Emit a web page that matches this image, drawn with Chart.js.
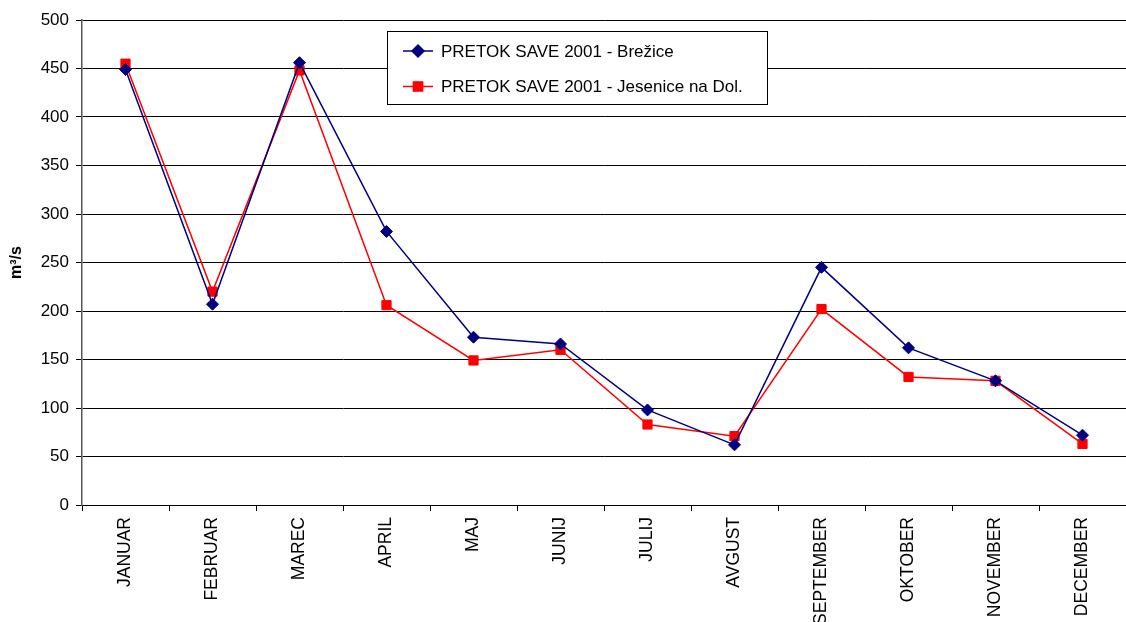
<!DOCTYPE html>
<html>
<head>
<meta charset="utf-8">
<script src="https://cdn.jsdelivr.net/npm/chart.js@4/dist/chart.umd.min.js"></script>
<style>
  html, body { margin: 0; padding: 0; background: #fff; }
  #wrap { width: 1126px; height: 622px; position: relative; }
</style>
</head>
<body>
<div id="wrap"><canvas id="lineChart"></canvas></div>
<script>
// podatki - pretok Save 2001 (m3/s)
const months = ['JANUAR','FEBRUAR','MAREC','APRIL','MAJ','JUNIJ','JULIJ','AVGUST','SEPTEMBER','OKTOBER','NOVEMBER','DECEMBER'];
const brezice   = [449, 207, 456, 282, 173, 166, 98, 62, 245, 162, 128, 72];
const jesenice  = [455, 220, 448, 206, 149, 160, 83, 71, 202, 132, 128, 63];
const seriesNames = ['PRETOK SAVE 2001 - Brežice', 'PRETOK SAVE 2001 - Jesenice na Dol.'];
const yTicks = [0, 50, 100, 150, 200, 250, 300, 350, 400, 450, 500];

const FONT = '"Liberation Sans", Arial, sans-serif';

// legenda v okvirju znotraj grafa
const boxLegend = {
    id: 'boxLegend',
    afterDraw(chart) {
        const ctx = chart.ctx;
        const x0 = chart.chartArea.left + 305, y0 = 31, w = 380, h = 73;
        ctx.save();
        ctx.fillStyle = '#fff';
        ctx.fillRect(x0, y0, w, h);
        ctx.strokeStyle = '#000';
        ctx.lineWidth = 1;
        ctx.strokeRect(x0 + 0.5, y0 + 0.5, w, h);
        chart.data.datasets.forEach((ds, i) => {
            const cy = y0 + 20 + i * 35.5;
            ctx.strokeStyle = ds.borderColor;
            ctx.lineWidth = 1.5;
            ctx.beginPath();
            ctx.moveTo(x0 + 16, cy);
            ctx.lineTo(x0 + 46, cy);
            ctx.stroke();
            ctx.fillStyle = ds.backgroundColor;
            Chart.helpers.drawPoint(ctx, { pointStyle: ds.pointStyle, radius: ds.pointRadius, borderWidth: 1 }, x0 + 31, cy);
            ctx.fill();
            ctx.fillStyle = '#000';
            ctx.font = '17px ' + FONT;
            ctx.textBaseline = 'middle';
            ctx.textAlign = 'left';
            ctx.fillText(ds.label, x0 + 54, cy + 1);
        });
        ctx.restore();
    }
};

new Chart(document.getElementById('lineChart'), {
    type: 'line',
    data: {
        labels: months,
        datasets: [
            {
                label: seriesNames[0],
                data: brezice,
                borderColor: '#000080',
                backgroundColor: '#000080',
                borderWidth: 1.5,
                pointStyle: 'rectRot',
                pointRadius: 6,
                pointBorderWidth: 1,
                tension: 0
            },
            {
                label: seriesNames[1],
                data: jesenice,
                borderColor: '#ff0000',
                backgroundColor: '#ff0000',
                borderWidth: 1.5,
                pointStyle: 'rect',
                pointRadius: 6.5,
                pointBorderWidth: 1,
                tension: 0
            }
        ]
    },
    options: {
        responsive: true,
        maintainAspectRatio: false,
        animation: false,
        layout: { autoPadding: false, padding: { top: 20, right: 0, left: 0, bottom: 0 } },
        plugins: {
            legend: { display: false },
            tooltip: { enabled: false }
        },
        scales: {
            x: {
                offset: true,
                grid: { offset: true, drawOnChartArea: false, color: '#000', tickLength: 6 },
                border: { color: '#000', width: 1 },
                ticks: {
                    color: '#000', minRotation: 90, maxRotation: 90, autoSkip: false, padding: 6,
                    font: { family: FONT, size: 17.5 }
                },
                afterFit: s => { s.height = 117; s.paddingLeft = 0; s.paddingRight = 0; }
            },
            y: {
                min: 0, max: 500,
                afterBuildTicks: s => { s.ticks = yTicks.map(v => ({ value: v })); },
                grid: { color: '#000', lineWidth: 1, tickLength: 6 },
                border: { color: '#555', width: 1.5 },
                ticks: { color: '#000', padding: 7, font: { family: FONT, size: 17 } },
                title: {
                    display: true, text: 'm³/s', color: '#000', padding: { top: 7, bottom: 0 },
                    font: { family: FONT, size: 16, weight: 'bold' }
                },
                afterFit: s => { s.width = 82; s.paddingTop = 0; s.paddingBottom = 0; }
            }
        }
    },
    plugins: [boxLegend]
});
</script>
</body>
</html>
